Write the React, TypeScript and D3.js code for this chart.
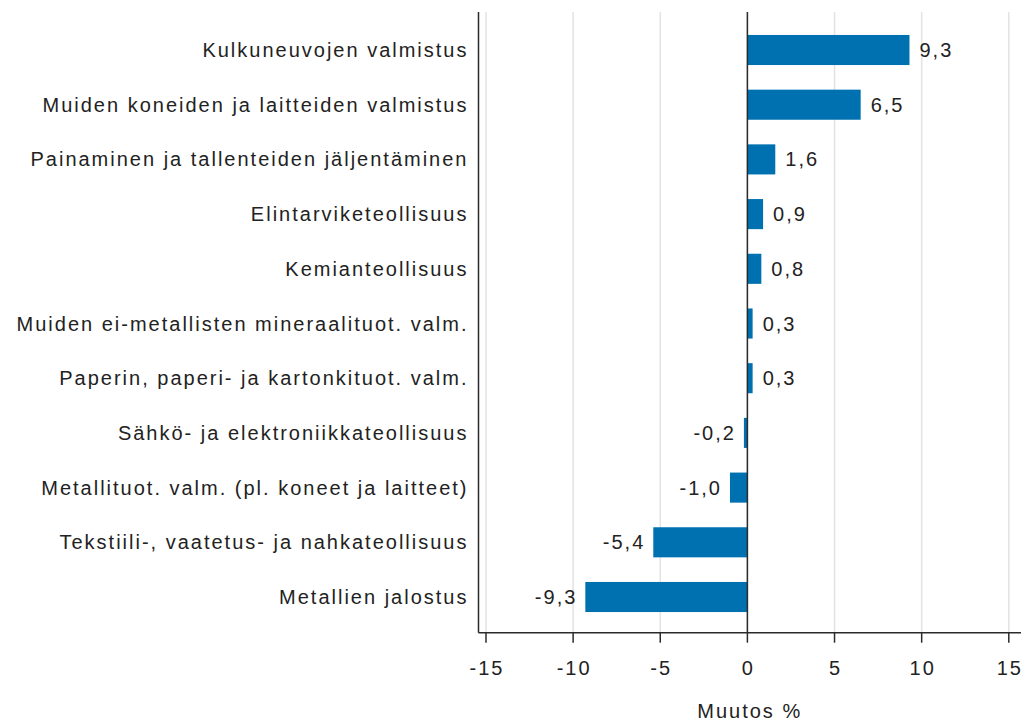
import React from "react";
import * as d3 from "d3";

const categories = [
  "Kulkuneuvojen valmistus",
  "Muiden koneiden ja laitteiden valmistus",
  "Painaminen ja tallenteiden jäljentäminen",
  "Elintarviketeollisuus",
  "Kemianteollisuus",
  "Muiden ei-metallisten mineraalituot. valm.",
  "Paperin, paperi- ja kartonkituot. valm.",
  "Sähkö- ja elektroniikkateollisuus",
  "Metallituot. valm. (pl. koneet ja laitteet)",
  "Tekstiili-, vaatetus- ja nahkateollisuus",
  "Metallien jalostus",
];
const values = [9.3, 6.5, 1.6, 0.9, 0.8, 0.3, 0.3, -0.2, -1.0, -5.4, -9.3];
const xTicks = [-15, -10, -5, 0, 5, 10, 15];
const xTitle = "Muutos %";

const W = 1023;
const H = 722;
const left = 478.5;
const right = 1021;
const top = 12;
const bottom = 632.7;

const FONT = "'Liberation Sans', Arial, sans-serif";
const FS = 20;
const LS = 2.0;
const BAR = "#0071b0";
const TXT = "#222";
const AX = "#2b2b2b";

export default function App() {
  const x = d3.scaleLinear().domain([-15.43, 15.7]).range([left, right]);
  const y = d3
    .scaleBand<string>()
    .domain(categories)
    .range([22.65, 624.35])
    .paddingInner(0.45)
    .paddingOuter(0.225);
  const fmt = (v: number) => d3.format(".1f")(v).replace(".", ",").replace("\u2212", "-");
  const x0 = x(0);

  return (
    <svg
      width={W}
      height={H}
      style={{ position: "absolute", left: 0, top: 0, background: "#fff" }}
      fontFamily={FONT}
    >
      {xTicks.map((t) => (
        <line
          key={"g" + t}
          x1={x(t)}
          x2={x(t)}
          y1={top}
          y2={bottom}
          stroke="#e3e3e3"
          strokeWidth={1.5}
        />
      ))}
      {categories.map((c, i) => {
        const v = values[i];
        const bx = Math.min(x(v), x0);
        const bw = Math.abs(x(v) - x0);
        const cy = (y(c) as number) + y.bandwidth() / 2;
        return (
          <g key={c}>
            <rect x={bx} y={y(c)} width={bw} height={y.bandwidth()} fill={BAR} />
            <text
              x={v >= 0 ? x(v) + 10 : x(v) - 8}
              y={cy}
              dy="0.35em"
              textAnchor={v >= 0 ? "start" : "end"}
              fontSize={FS}
              letterSpacing={LS}
              fill={TXT}
            >
              {fmt(v)}
            </text>
            <text
              x={left - 10}
              y={cy}
              dy="0.35em"
              textAnchor="end"
              fontSize={FS}
              letterSpacing={LS}
              fill={TXT}
            >
              {c}
            </text>
          </g>
        );
      })}
      <line x1={x0} x2={x0} y1={top} y2={bottom} stroke={AX} strokeWidth={1.5} />
      <line x1={left} x2={left} y1={top} y2={bottom} stroke={AX} strokeWidth={1.5} />
      <line x1={left} x2={right} y1={bottom} y2={bottom} stroke={AX} strokeWidth={1.5} />
      {xTicks.map((t) => (
        <g key={"t" + t}>
          <line x1={x(t)} x2={x(t)} y1={bottom} y2={bottom + 10} stroke={AX} strokeWidth={1.5} />
          <text
            x={x(t) + LS / 2}
            y={bottom + 42}
            textAnchor="middle"
            fontSize={FS}
            letterSpacing={LS}
            fill={TXT}
          >
            {t}
          </text>
        </g>
      ))}
      <text
        x={(left + right) / 2}
        y={H - 4}
        textAnchor="middle"
        fontSize={FS}
        letterSpacing={LS}
        fill={TXT}
      >
        {xTitle}
      </text>
    </svg>
  );
}
